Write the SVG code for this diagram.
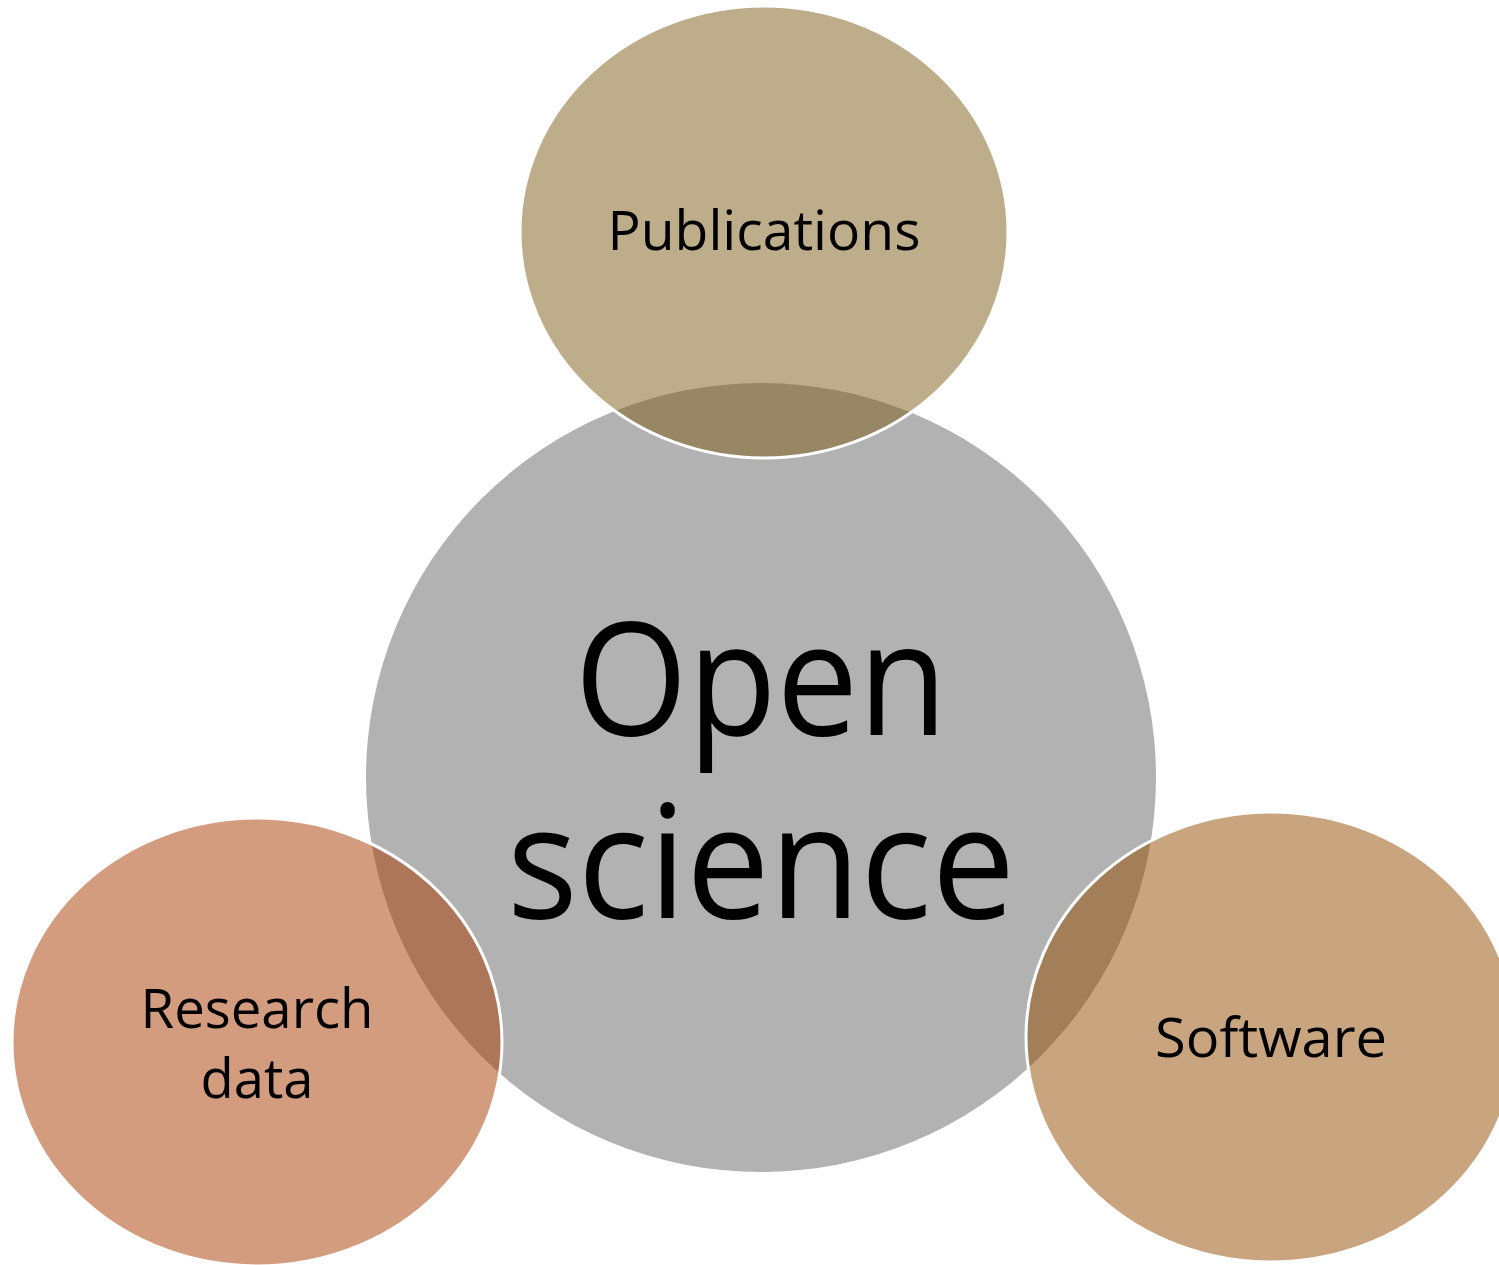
<svg xmlns="http://www.w3.org/2000/svg" width="1499" height="1265" viewBox="0 0 1499 1265">
<style>
.sat{stroke:#ffffff;stroke-width:3;fill-opacity:0.5}
.lbl{font-family:"Open Sans","Noto Sans","Liberation Sans",sans-serif;fill:#000;text-anchor:middle}
</style>
<rect width="1499" height="1265" fill="#ffffff"/>
<g id="open-science">
<ellipse cx="761" cy="777.5" rx="395" ry="394.5" fill="#b2b2b2"/>
</g>
<g id="publications">
<ellipse class="sat" cx="764" cy="232" rx="244" ry="226" fill="#7b5b15"/>
</g>
<g id="research-data">
<ellipse class="sat" cx="257" cy="1042" rx="245" ry="224" fill="#a93900"/>
</g>
<g id="software">
<ellipse class="sat" cx="1271" cy="1037" rx="245" ry="225" fill="#914900"/>
</g>
<g id="connectors"></g>
<g id="labels">
<text class="lbl" x="764" y="250" font-size="55" textLength="313" lengthAdjust="spacingAndGlyphs">Publications</text>
<text class="lbl" x="761" y="735" font-size="158" textLength="373" lengthAdjust="spacingAndGlyphs">Open</text>
<text class="lbl" x="761" y="918" font-size="158" textLength="508" lengthAdjust="spacingAndGlyphs">science</text>
<text class="lbl" x="257" y="1028" font-size="55" textLength="233" lengthAdjust="spacingAndGlyphs">Research</text>
<text class="lbl" x="257" y="1098" font-size="55" textLength="113" lengthAdjust="spacingAndGlyphs">data</text>
<text class="lbl" x="1271" y="1057" font-size="55" textLength="232" lengthAdjust="spacingAndGlyphs">Software</text>
</g>
</svg>
